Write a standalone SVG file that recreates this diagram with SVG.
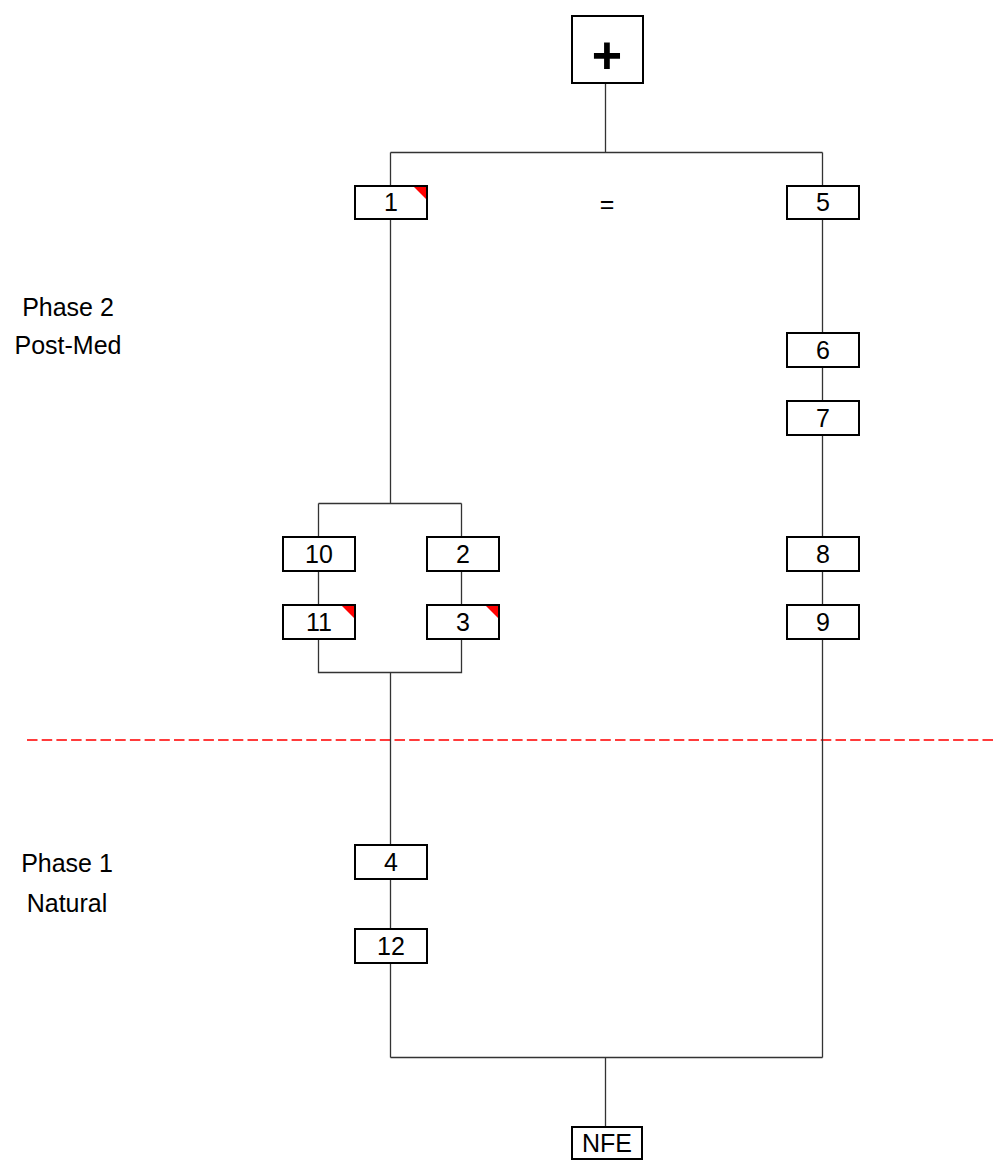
<svg xmlns="http://www.w3.org/2000/svg" width="993" height="1160" viewBox="0 0 993 1160">
<style>
.box{fill:#fff;stroke:#000;stroke-width:2}
.lbl{font-family:"Liberation Sans",Arial,sans-serif;font-size:25px;fill:#000;text-anchor:middle}
.conn{stroke:#333;stroke-width:1.3;fill:none}
.flag{fill:#f00;stroke:none}
</style>
<rect width="993" height="1160" fill="#fff"/>
<line x1="27" y1="740" x2="993" y2="740" stroke="#ff3b3b" stroke-width="2" stroke-dasharray="10.5 4.2"/>
<g id="connectors" class="conn">
<path d="M605.5 83V152.5M390.5 152.5H822.5"/>
<path d="M390.5 152.5V185M390.5 219V503.5M318.5 503.5H461.5M318.5 503.5V537M461.5 503.5V537"/>
<path d="M318.5 571V605M461.5 571V605M318.5 639V672.5H461.5V639M390.5 672.5V845M390.5 879V929M390.5 963V1057.5"/>
<path d="M822.5 152.5V185M822.5 219V333M822.5 367V401M822.5 435V537M822.5 571V605M822.5 639V1057.5M390.5 1057.5H822.5M605.5 1057.5V1127"/>
</g>
<g id="start"><rect class="box" x="572" y="16" width="71" height="67"/><text class="lbl" x="607" y="73" style="font-size:52px;font-weight:bold">+</text></g>
<g id="n1"><rect class="box" x="355" y="186" width="72" height="33"/><polygon class="flag" points="414,187 426,187 426,199"/><text class="lbl" x="391" y="211">1</text></g>
<g id="eq"><text class="lbl" x="607" y="213">=</text></g>
<g id="n5"><rect class="box" x="787" y="186" width="72" height="33"/><text class="lbl" x="823" y="211">5</text></g>
<g id="n6"><rect class="box" x="787" y="333" width="72" height="34"/><text class="lbl" x="823" y="359">6</text></g>
<g id="n7"><rect class="box" x="787" y="401" width="72" height="34"/><text class="lbl" x="823" y="427">7</text></g>
<g id="n8"><rect class="box" x="787" y="537" width="72" height="34"/><text class="lbl" x="823" y="563">8</text></g>
<g id="n9"><rect class="box" x="787" y="605" width="72" height="34"/><text class="lbl" x="823" y="631">9</text></g>
<g id="n10"><rect class="box" x="283" y="537" width="72" height="34"/><text class="lbl" x="319" y="563">10</text></g>
<g id="n2"><rect class="box" x="427" y="537" width="72" height="34"/><text class="lbl" x="463" y="563">2</text></g>
<g id="n11"><rect class="box" x="283" y="605" width="72" height="34"/><polygon class="flag" points="342,606 354,606 354,618"/><text class="lbl" x="319" y="631">11</text></g>
<g id="n3"><rect class="box" x="427" y="605" width="72" height="34"/><polygon class="flag" points="486,606 498,606 498,618"/><text class="lbl" x="463" y="631">3</text></g>
<g id="n4"><rect class="box" x="355" y="845" width="72" height="34"/><text class="lbl" x="391" y="871">4</text></g>
<g id="n12"><rect class="box" x="355" y="929" width="72" height="34"/><text class="lbl" x="391" y="955">12</text></g>
<g id="nfe"><rect class="box" x="572" y="1127" width="70" height="32"/><text class="lbl" x="607" y="1152">NFE</text></g>
<g id="phase2"><text class="lbl" x="68" y="316">Phase 2</text><text class="lbl" x="68" y="354">Post-Med</text></g>
<g id="phase1"><text class="lbl" x="67" y="872">Phase 1</text><text class="lbl" x="67" y="912">Natural</text></g>
</svg>
